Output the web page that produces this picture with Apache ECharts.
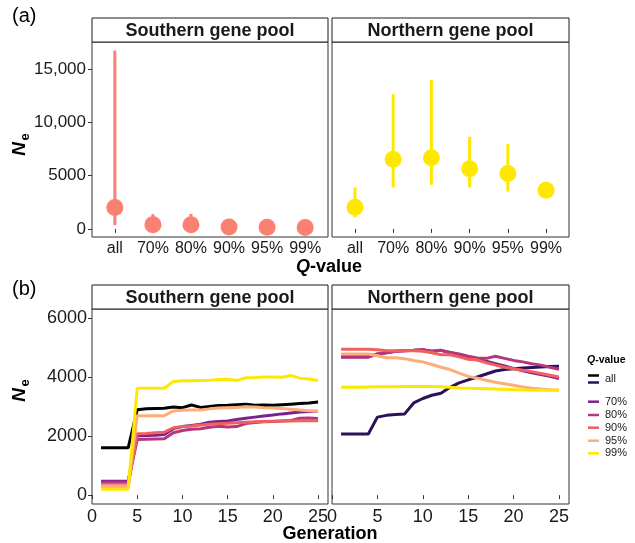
<!DOCTYPE html>
<html><head><meta charset="utf-8">
<script src="https://cdn.jsdelivr.net/npm/echarts@6.0.0/dist/echarts.min.js"></script>
<style>html,body{margin:0;padding:0;background:#fff}#c{width:635px;height:543px}</style>
</head><body><div id="c"></div>
<script>
// ---- Panel (a) data ----
const qCategories = ['all', '70%', '80%', '90%', '95%', '99%'];
const southNe = [2000, 400, 380, 180, 150, 120];
const southLo = [350, 200, 200, null, null, null];
const southHi = [16720, 1380, 1400, null, null, null];
const northNe = [2030, 6530, 6660, 5630, 5190, 3630];
const northLo = [1100, 3880, 4130, 3880, 3500, null];
const northHi = [3880, 12630, 13970, 8630, 7970, null];
const neTicksA = [0, 5000, 10000, 15000];
const neTickLabelsA = ['0', '5000', '10,000', '15,000'];

// ---- Panel (b) data ----
const generations = [1,2,3,4,5,6,7,8,9,10,11,12,13,14,15,16,17,18,19,20,21,22,23,24,25];
const genTicks = [0, 5, 10, 15, 20, 25];
const neTicksB = [0, 2000, 4000, 6000];
const lineKeys = ['all', '70%', '80%', '90%', '95%', '99%'];
const southAll = [1600,1600,1600,1600,2890,2920,2930,2940,2980,2960,3050,2970,3000,3030,3040,3060,3080,3040,3050,3040,3060,3080,3100,3120,3150];
const south70 = [470,470,470,470,2010,2020,2030,2050,2250,2320,2360,2400,2470,2490,2510,2560,2600,2640,2680,2710,2750,2780,2810,2830,2840];
const south80 = [440,440,440,440,1880,1890,1900,1910,2110,2190,2230,2250,2300,2330,2310,2320,2420,2460,2480,2490,2510,2530,2600,2610,2590];
const south90 = [320,320,320,320,2080,2090,2110,2130,2280,2320,2340,2370,2400,2420,2430,2450,2470,2480,2490,2500,2510,2510,2520,2520,2520];
const south95 = [290,290,290,290,2690,2690,2690,2690,2850,2870,2880,2880,2920,2950,2960,2970,2990,2980,2960,2950,2930,2910,2880,2860,2840];
const south99 = [200,200,200,200,3620,3620,3620,3620,3850,3870,3870,3880,3890,3910,3920,3880,3970,3980,4000,4000,3990,4050,3960,3930,3880];
const northAll = [2070,2070,2070,2070,2640,2700,2730,2750,3120,3270,3380,3450,3650,3800,3900,4000,4100,4200,4250,4280,4300,4320,4340,4350,4360];
const north70 = [4680,4680,4680,4680,4780,4820,4870,4890,4900,4920,4870,4900,4830,4760,4680,4590,4530,4450,4370,4290,4210,4140,4080,4020,3950];
const north80 = [4670,4670,4670,4670,4780,4820,4870,4890,4900,4920,4870,4900,4830,4780,4700,4640,4630,4700,4630,4560,4510,4450,4400,4330,4260];
const north90 = [4940,4940,4940,4940,4920,4890,4890,4890,4890,4870,4820,4750,4750,4680,4600,4570,4480,4400,4330,4280,4230,4180,4120,4060,4000];
const north95 = [4780,4780,4780,4780,4720,4650,4650,4620,4560,4510,4420,4330,4250,4130,4020,3960,3890,3820,3770,3720,3660,3620,3590,3570,3560];
const north99 = [3650,3650,3650,3660,3670,3670,3670,3680,3680,3680,3680,3670,3650,3630,3620,3610,3600,3590,3580,3570,3560,3550,3550,3550,3550];

const southLines = [southAll, south70, south80, south90, south95, south99];
const northLines = [northAll, north70, north80, north90, north95, north99];
const southColors = ['#000000', '#7B2191', '#B5367A', '#F0605D', '#FDAE78', '#FFE800'];
const northColors = ['#2C105C', '#7B2191', '#B5367A', '#F0605D', '#FDAE78', '#FFE800'];

const FONT = 'Liberation Sans, Arial, sans-serif';
const TXT = '#1a1a1a';
const chart = echarts.init(document.getElementById('c'), null, {renderer: 'canvas'});

const grids = [
  {left: 92, top: 42, width: 236, height: 195},
  {left: 332, top: 42, width: 237, height: 195},
  {left: 92, top: 309, width: 236, height: 195},
  {left: 332, top: 309, width: 237, height: 195}
].map(g => Object.assign({show: true, borderColor: '#333', borderWidth: 1, backgroundColor: 'transparent', containLabel: false}, g));

function xAxisA(gi) {
  return {
    type: 'value', gridIndex: gi, min: 0.4, max: 6.6,
    axisLine: {show: false}, splitLine: {show: false},
    axisTick: {show: true, inside: false, length: 4, lineStyle: {color: '#333'}, customValues: [1,2,3,4,5,6]},
    axisLabel: {show: true, customValues: [1,2,3,4,5,6], margin: 4, color: TXT, fontSize: 16, fontFamily: FONT,
      formatter: v => qCategories[Math.round(v) - 1] || ''}
  };
}
function yAxisA(gi) {
  return {
    type: 'value', gridIndex: gi, min: -760, max: 17520,
    axisLine: {show: false}, splitLine: {show: false},
    axisTick: {show: gi === 0, inside: false, length: 4, lineStyle: {color: '#333'}, customValues: neTicksA},
    axisLabel: {show: gi === 0, customValues: neTicksA, margin: 6, color: TXT, fontSize: 17, fontFamily: FONT,
      formatter: v => neTickLabelsA[neTicksA.indexOf(v)]}
  };
}
function xAxisB(gi) {
  return {
    type: 'value', gridIndex: gi, min: 0, max: 26.1,
    axisLine: {show: false}, splitLine: {show: false},
    axisTick: {show: true, inside: false, length: 4, lineStyle: {color: '#333'}, customValues: genTicks},
    axisLabel: {show: true, customValues: genTicks, margin: 4, color: TXT, fontSize: 18, fontFamily: FONT,
      formatter: v => String(v)}
  };
}
function yAxisB(gi) {
  return {
    type: 'value', gridIndex: gi, min: -300, max: 6300,
    axisLine: {show: false}, splitLine: {show: false},
    axisTick: {show: gi === 2, inside: false, length: 4, lineStyle: {color: '#333'}, customValues: neTicksB},
    axisLabel: {show: gi === 2, customValues: neTicksB, margin: 5, color: TXT, fontSize: 18, fontFamily: FONT,
      formatter: v => String(v)}
  };
}

function errSeries(gi, lo, hi, color) {
  const data = [];
  lo.forEach((l, i) => { if (l != null && hi[i] != null) data.push([i + 1, l, hi[i]]); });
  return {
    type: 'custom', xAxisIndex: gi, yAxisIndex: gi, data: data, z: 2,
    encode: {x: 0, y: [1, 2]},
    renderItem: function (params, api) {
      const p1 = api.coord([api.value(0), api.value(1)]);
      const p2 = api.coord([api.value(0), api.value(2)]);
      return {type: 'line', shape: {x1: p1[0], y1: p1[1], x2: p2[0], y2: p2[1]},
        style: {stroke: color, lineWidth: 3, lineCap: 'butt'}};
    }
  };
}
function ptSeries(gi, vals, color) {
  return {type: 'scatter', xAxisIndex: gi, yAxisIndex: gi, symbol: 'circle', symbolSize: 17, z: 3,
    itemStyle: {color: color, opacity: 1}, data: vals.map((v, i) => [i + 1, v])};
}
function lineSeries(gi, vals, color, name, idx) {
  return {type: 'line', name: name, xAxisIndex: gi, yAxisIndex: gi, showSymbol: false, symbol: 'none',
    z: 2 + idx * 0.01, lineStyle: {color: color, width: 3}, itemStyle: {color: color},
    data: generations.map((g, i) => [g, vals[i]])};
}

const series = [
  errSeries(0, southLo, southHi, '#FA8072'), ptSeries(0, southNe, '#FA8072'),
  errSeries(1, northLo, northHi, '#FFE800'), ptSeries(1, northNe, '#FFE800')
];
southLines.forEach((v, i) => series.push(lineSeries(2, v, southColors[i], lineKeys[i], i)));
northLines.forEach((v, i) => series.push(lineSeries(3, v, northColors[i], lineKeys[i], i)));

function strip(x, y, w, h, label) {
  return [
    {type: 'rect', shape: {x: x, y: y, width: w, height: h}, style: {fill: '#fff', stroke: '#1a1a1a', lineWidth: 1}, z: 10},
    {type: 'text', x: x + w / 2, y: y + h / 2 + 1, z: 11,
      style: {text: label, fill: TXT, font: 'bold 18px ' + FONT, align: 'center', verticalAlign: 'middle'}}
  ];
}
function neTitle(cy) {
  return [
    {type: 'text', x: 20, y: cy, rotation: Math.PI / 2, z: 11,
      style: {text: 'N', fill: '#000', font: 'italic bold 19px ' + FONT, align: 'center', verticalAlign: 'middle'}},
    {type: 'text', x: 25.5, y: cy - 12, rotation: Math.PI / 2, z: 11,
      style: {text: 'e', fill: '#000', font: 'bold 13px ' + FONT, align: 'center', verticalAlign: 'middle'}}
  ];
}
const graphics = [].concat(
  strip(92, 18, 236, 24, 'Southern gene pool'),
  strip(332, 18, 237, 24, 'Northern gene pool'),
  strip(92, 285, 236, 24, 'Southern gene pool'),
  strip(332, 285, 237, 24, 'Northern gene pool'),
  neTitle(149), neTitle(395),
  [
    {type: 'text', x: 12, y: 16, style: {text: '(a)', fill: '#000', font: '20px ' + FONT, align: 'left', verticalAlign: 'middle'}},
    {type: 'text', x: 12, y: 289, style: {text: '(b)', fill: '#000', font: '20px ' + FONT, align: 'left', verticalAlign: 'middle'}},
    {type: 'text', x: 329, y: 267, style: {text: '{q|Q}{v|-value}', align: 'center', verticalAlign: 'middle',
      rich: {q: {font: 'italic bold 18px ' + FONT, fill: '#000'}, v: {font: 'bold 18px ' + FONT, fill: '#000'}}}},
    {type: 'text', x: 330, y: 534, style: {text: 'Generation', fill: '#000', font: 'bold 18px ' + FONT, align: 'center', verticalAlign: 'middle'}},
    {type: 'text', x: 587, y: 360, style: {text: '{q|Q}{v|-value}', align: 'left', verticalAlign: 'middle',
      rich: {q: {font: 'italic bold 10.5px ' + FONT, fill: '#000'}, v: {font: 'bold 10.5px ' + FONT, fill: '#000'}}}}
  ]
);
// legend keys
graphics.push({type: 'line', shape: {x1: 588, y1: 375.5, x2: 599, y2: 375.5}, style: {stroke: southColors[0], lineWidth: 2.5}});
graphics.push({type: 'line', shape: {x1: 588, y1: 382.5, x2: 599, y2: 382.5}, style: {stroke: northColors[0], lineWidth: 2.5}});
graphics.push({type: 'text', x: 605, y: 379, style: {text: lineKeys[0], fill: TXT, font: '11px ' + FONT, align: 'left', verticalAlign: 'middle'}});
const legY = [401.7, 415, 427.7, 440.7, 453.3];
for (let i = 1; i < lineKeys.length; i++) {
  const y = legY[i - 1];
  graphics.push({type: 'line', shape: {x1: 588, y1: y, x2: 599, y2: y}, style: {stroke: southColors[i], lineWidth: 2.5}});
  graphics.push({type: 'text', x: 605, y: y, style: {text: lineKeys[i], fill: TXT, font: '11px ' + FONT, align: 'left', verticalAlign: 'middle'}});
}

chart.setOption({
  animation: false,
  backgroundColor: '#fff',
  textStyle: {fontFamily: FONT},
  grid: grids,
  xAxis: [xAxisA(0), xAxisA(1), xAxisB(2), xAxisB(3)],
  yAxis: [yAxisA(0), yAxisA(1), yAxisB(2), yAxisB(3)],
  series: series,
  graphic: graphics
});
</script></body></html>
